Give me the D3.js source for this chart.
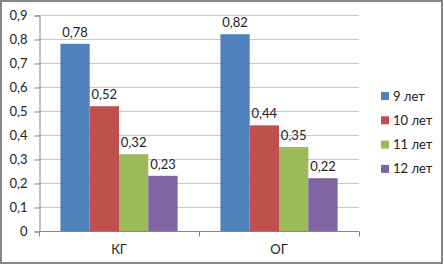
<!DOCTYPE html>
<html>
<head>
<meta charset="utf-8">
<script src="https://cdn.jsdelivr.net/npm/d3@7"></script>
<style>
  body { margin: 0; background: #fff; }
  svg { display: block; font-family: "Lato", "Liberation Sans", sans-serif; }
</style>
</head>
<body>
<div id="chart"></div>
<script>
// данные диаграммы
const groups = ['КГ', 'ОГ']
const series = ['9 лет', '10 лет', '11 лет', '12 лет']
const valuesKG = [0.78, 0.52, 0.32, 0.23]
const valuesOG = [0.82, 0.44, 0.35, 0.22]
const yTicks = [0, 0.1, 0.2, 0.3, 0.4, 0.5, 0.6, 0.7, 0.8, 0.9]
const colors = ['#4F81BD', '#C0504D', '#9BBB59', '#8064A2']

const width = 444, height = 266
const fmt = d => String(d).replace('.', ',')

const svg = d3.select('#chart').append('svg')
    .attr('width', width)
    .attr('height', height)

// рамка
svg.append('rect')
    .attr('x', 1).attr('y', 1)
    .attr('width', 441).attr('height', 262)
    .attr('fill', '#fff')
    .attr('stroke', '#868686')
    .attr('stroke-width', 2)

const plot = { left: 39, right: 359, top: 15, bottom: 231 }

const x = d3.scaleBand().domain(groups).range([plot.left, plot.right])
const xInner = d3.scaleBand().domain(series).range([0, x.bandwidth()]).paddingOuter(0.73)
const y = d3.scaleLinear().domain([0, 0.9]).range([plot.bottom, plot.top])

// сетка
svg.append('g')
    .selectAll('line')
    .data(yTicks.slice(1))
    .join('line')
    .attr('x1', plot.left).attr('x2', plot.right)
    .attr('y1', d => y(d) + 0.5).attr('y2', d => y(d) + 0.5)
    .attr('stroke', '#c8c8c8')

// ось y
const yAxis = svg.append('g')
    .attr('transform', `translate(${plot.left + 0.5},0.5)`)
    .call(d3.axisLeft(y).tickValues(yTicks).tickFormat(fmt).tickSize(5).tickPadding(7))
yAxis.select('.domain').attr('stroke', '#868686')
yAxis.selectAll('.tick line').attr('stroke', '#868686')
yAxis.selectAll('text').attr('font-size', 13).attr('fill', '#222').attr('font-family', 'Lato, sans-serif')

// столбцы
const data = groups.map((g, i) => ({ group: g, values: i === 0 ? valuesKG : valuesOG }))
const gGroup = svg.append('g').selectAll('g')
    .data(data)
    .join('g')
    .attr('transform', d => `translate(${x(d.group)},0)`)

gGroup.selectAll('rect')
    .data(d => d.values.map((v, j) => ({ key: series[j], v, j })))
    .join('rect')
    .attr('x', d => xInner(d.key))
    .attr('width', xInner.bandwidth())
    .attr('y', d => y(d.v))
    .attr('height', d => y(0) - y(d.v))
    .attr('fill', d => colors[d.j])

gGroup.selectAll('text')
    .data(d => d.values.map((v, j) => ({ key: series[j], v })))
    .join('text')
    .attr('x', d => xInner(d.key) + xInner.bandwidth() / 2)
    .attr('y', d => y(d.v) - 7)
    .attr('text-anchor', 'middle')
    .attr('font-size', 13)
    .attr('fill', '#222')
    .text(d => fmt(d.v))

// ось x
const xAxis = svg.append('g')
    .attr('transform', `translate(0,${plot.bottom + 0.5})`)
xAxis.append('line')
    .attr('x1', plot.left).attr('x2', plot.right)
    .attr('stroke', '#868686')
xAxis.selectAll('.tk')
    .data([plot.left, x('ОГ'), plot.right])
    .join('line')
    .attr('class', 'tk')
    .attr('x1', d => d + 0.5).attr('x2', d => d + 0.5)
    .attr('y1', 0).attr('y2', 5)
    .attr('stroke', '#868686')
xAxis.selectAll('text')
    .data(groups)
    .join('text')
    .attr('x', d => x(d) + x.bandwidth() / 2)
    .attr('y', 22)
    .attr('text-anchor', 'middle')
    .attr('font-size', 13)
    .attr('fill', '#222')
    .text(d => d)

// легенда
const legend = svg.append('g')
    .attr('transform', 'translate(381,96)')
const li = legend.selectAll('g')
    .data(series)
    .join('g')
    .attr('transform', (d, i) => `translate(0,${i * 24.3})`)
li.append('rect')
    .attr('x', 0).attr('y', -4)
    .attr('width', 8).attr('height', 8)
    .attr('fill', (d, i) => colors[i])
li.append('text')
    .attr('x', 12).attr('y', 0)
    .attr('dy', '0.35em')
    .attr('font-size', 13)
    .attr('fill', '#222')
    .text(d => d)
</script>
</body>
</html>
